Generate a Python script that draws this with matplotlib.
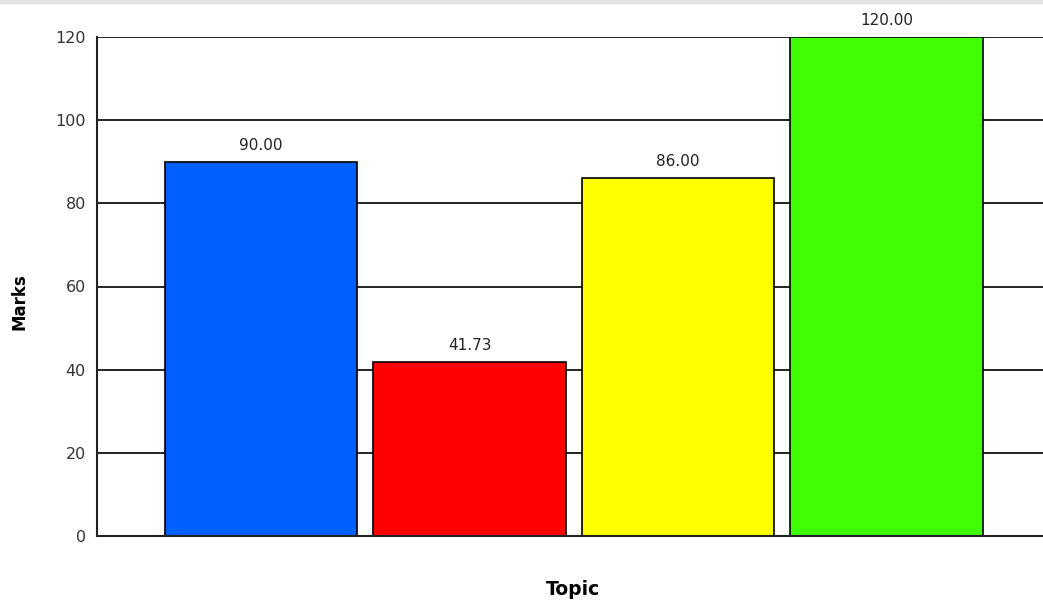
import matplotlib.pyplot as plt
from matplotlib.patches import Rectangle

topics = ["A", "B", "C", "D"]
marks = [90.00, 41.73, 86.00, 120.00]
colors = ["#0060ff", "#ff0000", "#ffff00", "#40ff00"]
yticks = [0, 20, 40, 60, 80, 100, 120]

plt.rcParams['font.family'] = ['DejaVu Sans']

fig = plt.figure(figsize=(10.43, 6.04), dpi=100)
# thin grey strip along the top edge
fig.patches.append(Rectangle((0, 1 - 3 / 604), 1, 3 / 604, transform=fig.transFigure,
                             color="#e4e4e4", zorder=0))

W, H = 1043, 604
aw = 1050.5 - 97
ah = 536 - 37
ax = fig.add_axes([97 / W, (H - 536) / H, aw / W, ah / H])

x = list(range(len(topics)))
ax.bar(x, marks, width=0.925, color=colors, edgecolor="black", linewidth=1.2, zorder=3)
for xi, v in zip(x, marks):
    ax.annotate(f"{v:.2f}", (xi, v), xytext=(0, 6.5), textcoords="offset points",
                ha="center", va="bottom", fontsize=11, color="#222222")

ax.set_xlim(-0.787, 3.787)
ax.set_ylim(0, 120)
ax.set_yticks(yticks)
ax.set_xticks([])
ax.tick_params(axis="y", length=0, pad=8, labelsize=11.5, labelcolor="#333333")
ax.grid(axis="y", color="black", linewidth=1.2, zorder=0)
ax.set_axisbelow(True)
for s in ["top", "right"]:
    ax.spines[s].set_visible(False)
for s in ["left", "bottom"]:
    ax.spines[s].set_linewidth(1.5)
    ax.spines[s].set_color("#222222")
ax.spines["bottom"].set_zorder(4)

ax.set_ylabel("Marks", fontweight="bold", fontsize=12)
ax.yaxis.set_label_coords((28 - 97) / aw, (536 - 302) / ah)
ax.set_xlabel("Topic", fontweight="bold", fontsize=13.5)
ax.xaxis.set_label_coords((573 - 97) / aw, -(580 - 536) / ah)

fig.savefig("out.png", dpi=100)
